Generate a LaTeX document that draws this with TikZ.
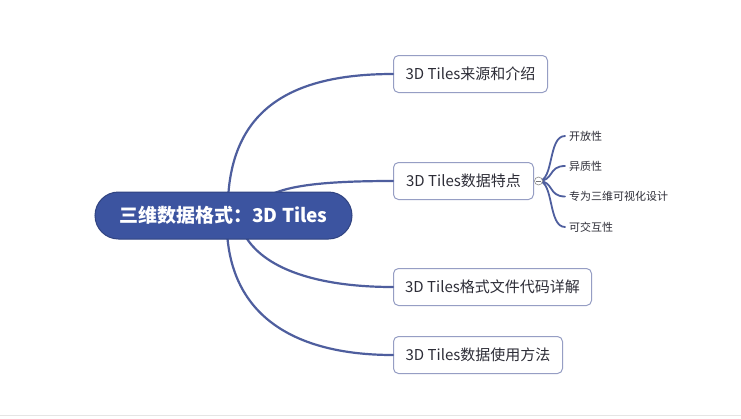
\documentclass[tikz,border=0pt]{standalone}
\usepackage{fontspec}
\setmainfont{Noto Sans CJK SC}
\definecolor{rootblue}{RGB}{60,84,160}
\definecolor{linkblue}{RGB}{78,94,158}
\definecolor{boxedge}{RGB}{150,158,196}
\definecolor{txt}{RGB}{45,45,55}
\tikzset{
  rootnode/.style={draw=rootblue!80!black, line width=1pt, fill=rootblue, rounded corners=23.5pt, minimum width=257pt, minimum height=47pt, inner sep=0pt, text=white, font=\fontsize{19}{21}\selectfont\bfseries},
  topicbox/.style={draw=boxedge, line width=1pt, fill=white, rounded corners=5pt, minimum height=37pt, inner sep=0pt, anchor=west, text=txt, font=\fontsize{15}{17}\selectfont},
  subtxt/.style={anchor=west, inner sep=0pt, text=txt, font=\fontsize{11}{13}\selectfont},
  link/.style={draw=linkblue, line width=2.2pt, line cap=round},
  sublink/.style={draw=linkblue, line width=1.8pt, line cap=round},
}
\begin{document}
\begin{tikzpicture}[x=1pt,y=-1pt]
\useasboundingbox (0,0) rectangle (741,418);
\fill[white] (0,0) rectangle (741,418);
\draw[black!10, line width=1.2pt] (0,415.5) -- (741,415.5);

\coordinate (r1) at (228,200);
\coordinate (r2) at (262,200);
\coordinate (r3) at (243,232);
\coordinate (r4) at (227,232);

\node[topicbox, minimum width=154pt] (t1) at (393,74) {3D Tiles来源和介绍\hspace{14pt}};
\node[topicbox, minimum width=140pt] (t2) at (393,181) {3D Tiles数据特点};
\node[topicbox, minimum width=198pt] (t3) at (393,287) {3D Tiles格式文件代码详解};
\node[topicbox, minimum width=169pt] (t4) at (393,355) {3D Tiles数据使用方法};

\path[link] (r1) .. controls (232,110) and (290,74) .. (t1.west);
\path[link] (r2) .. controls (280,186) and (320,181) .. (t2.west);
\path[link] (r3) .. controls (262,270) and (320,287) .. (t3.west);
\path[link] (r4) .. controls (232,320) and (300,355) .. (t4.west);

\node[rootnode] (root) at (223.5,215.5) {三维数据格式：3D Tiles};

\node[subtxt] (s1) at (569,136) {开放性};
\node[subtxt] (s2) at (569,166) {异质性};
\node[subtxt] (s3) at (569,196.5) {专为三维可视化设计};
\node[subtxt] (s4) at (569,227) {可交互性};

\coordinate (k) at (538.5,181);
\path[sublink] (k) .. controls (554,181) and (548,136) .. ([xshift=-4pt]s1.west);
\path[sublink] (k) .. controls (554,181) and (548,166) .. ([xshift=-4pt]s2.west);
\path[sublink] (k) .. controls (554,181) and (548,196.5) .. ([xshift=-4pt]s3.west);
\path[sublink] (k) .. controls (554,181) and (548,227) .. ([xshift=-4pt]s4.west);
\node[circle, draw=black!45, fill=white, line width=0.6pt, minimum size=8pt, inner sep=0pt] (knob) at (k) {};
\draw[black!55, line width=0.6pt] ([xshift=-2.2pt]knob.center) -- ([xshift=2.2pt]knob.center);
\end{tikzpicture}
\end{document}
